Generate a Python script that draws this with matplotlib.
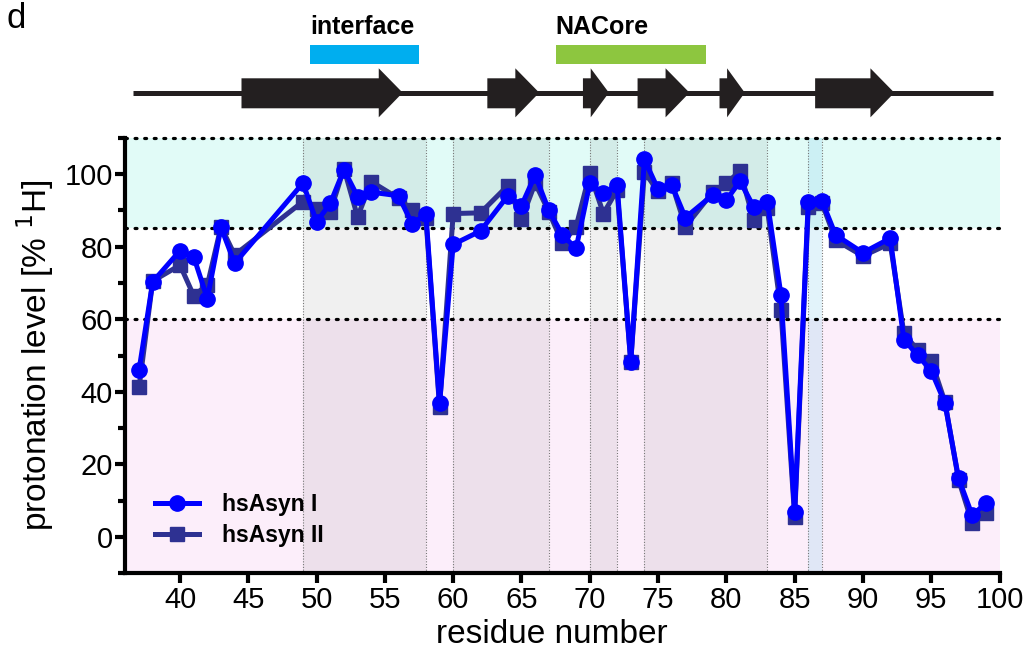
import numpy as np
import matplotlib
matplotlib.use("Agg")
import matplotlib.pyplot as plt
from matplotlib.patches import Polygon, Rectangle

plt.rcParams['font.family'] = ['Liberation Sans', 'DejaVu Sans']

# residues and protonation levels (% 1H)
residues = [37, 38, 40, 41, 42, 43, 44, 49, 50, 51, 52, 53, 54, 56, 57, 58, 59, 60,
            62, 64, 65, 66, 67, 68, 69, 70, 71, 72, 73, 74, 75, 76, 77, 79, 80, 81,
            82, 83, 84, 85, 86, 87, 88, 90, 92, 93, 94, 95, 96, 97, 98, 99]
hsasyn_1 = [46.0, 70.3, 78.9, 77.2, 65.7, 85.3, 75.4, 97.5, 86.8, 91.9, 101.2, 93.8,
            95.0, 94.0, 86.2, 89.0, 36.8, 80.6, 84.3, 94.0, 91.3, 99.7, 90.0, 83.2,
            79.5, 97.4, 94.7, 97.0, 48.3, 104.0, 95.8, 97.0, 88.0, 94.2, 92.8, 98.0,
            91.0, 92.4, 66.7, 7.0, 92.4, 92.6, 83.2, 78.3, 82.3, 54.4, 50.1, 45.8,
            37.0, 16.2, 6.0, 9.3]
hsasyn_2 = [41.2, 70.5, 74.9, 66.5, 69.4, 85.5, 77.7, 92.4, 90.3, 89.6, 101.5, 88.2,
            97.9, 93.3, 90.0, 88.0, 35.9, 89.1, 89.3, 96.8, 87.5, 97.5, 89.6, 80.9,
            85.5, 100.2, 89.1, 95.6, 48.3, 100.6, 95.2, 97.4, 85.5, 95.0, 97.4, 100.8,
            87.3, 90.5, 62.5, 5.6, 91.0, 92.0, 81.8, 77.4, 80.9, 56.1, 51.5, 48.6,
            37.3, 15.8, 3.8, 6.5]

# horizontal level bands
band_edges = [-10, 60, 85, 110]
band_colors = ['#FCEEFA', '#FFFFFF', '#E1FBF7']

# shaded residue stretches
core_regions = [(49, 58), (60, 67), (70, 72), (74, 83)]
blue_regions = [(86, 87)]

# secondary structure (beta strands) and labelled segments
strands = [(44.5, 56.3), (62.5, 66.3), (69.5, 71.4), (73.5, 77.3), (79.5, 81.35), (86.5, 92.3)]
chain_range = (36.56, 99.5)
segments = [('interface', 49.5, 57.5, '#00AEEF'), ('NACore', 67.5, 78.5, '#8DC63F')]

W, H = 1027, 666
fig = plt.figure(figsize=(W / 100, H / 100), dpi=100)

x0, x1 = 125.4, 999.5
y_top, y_bot = 137.7, 573.3
ax = fig.add_axes([x0 / W, 1 - y_bot / H, (x1 - x0) / W, (y_bot - y_top) / H])
ax.set_xlim(36, 100)
ax.set_ylim(-10, 110)

for lo, hi, c in zip(band_edges[:-1], band_edges[1:], band_colors):
    ax.axhspan(lo, hi, color=c, lw=0, zorder=0)
for a, b in core_regions:
    ax.axvspan(a, b, color='k', alpha=0.06, lw=0, zorder=0.5)
for a, b in blue_regions:
    ax.axvspan(a, b, color='#8FD3EC', alpha=0.25, lw=0, zorder=0.5)
edges = sorted(set([e for r in core_regions + blue_regions for e in r]))
for e in edges:
    ax.axvline(e, color='#777777', lw=0.8, ls=(0, (1, 1.5)), zorder=0.8)

for lvl in band_edges[1:]:
    ax.axhline(lvl, color='k', lw=2.3, ls=(0, (0.6, 2.4)), dash_capstyle='round',
               zorder=1, clip_on=False)

ax.plot(residues, hsasyn_2, color='#2E3192', lw=3.6, marker='s', ms=10,
        label='hsAsyn II', zorder=3)
ax.plot(residues, hsasyn_1, color='#0000FF', lw=3.6, marker='o', ms=11,
        label='hsAsyn I', zorder=4)

handles, labels = ax.get_legend_handles_labels()
leg = ax.legend(handles[::-1], labels[::-1], loc='lower left', bbox_to_anchor=(0.034, 0.06),
                frameon=False, borderpad=0, borderaxespad=0, handlelength=1.9,
                handletextpad=1.0, labelspacing=0.35,
                prop={'weight': 'bold', 'size': 16.5})

ax.spines['top'].set_visible(False)
ax.spines['right'].set_visible(False)
ax.spines['left'].set_linewidth(3)
ax.spines['bottom'].set_linewidth(3)
ax.set_xticks(np.arange(40, 101, 5))
ax.set_yticks(np.arange(0, 101, 20))
ax.set_yticks(np.arange(-10, 111, 20), minor=True)
ax.tick_params(axis='both', which='major', direction='out', length=7, width=3,
               labelsize=21, pad=2)
ax.tick_params(axis='y', which='minor', direction='out', length=5, width=3)
ax.set_xlabel('residue number', fontsize=24)
ax.xaxis.set_label_coords(0.488, -0.105)
ax.set_ylabel('protonation level [% $^{1}$H]', fontsize=24, labelpad=6)

# top schematic
t_top, t_bot = 0, 125
tax = fig.add_axes([x0 / W, 1 - t_bot / H, (x1 - x0) / W, (t_bot - t_top) / H])
tax.set_xlim(36, 100)
tax.set_ylim(t_bot, t_top)
tax.axis('off')
line_y = 92.7
tax.plot(chain_range, [line_y, line_y], color='#231F20', lw=3.6, solid_capstyle='butt')
for s, e in strands:
    head = min(1.75, 0.7 * (e - s))
    base = e - head
    tax.add_patch(Polygon([(s, 78.3), (base, 78.3), (base, 68.3), (e, line_y),
                           (base, 117.3), (base, 108.3), (s, 108.3)],
                          closed=True, color='#231F20', lw=0))
for name, a, b, c in segments:
    tax.add_patch(Rectangle((a, 45), b - a, 19, color=c, lw=0))
    tax.text(a, 34, name, fontsize=18, fontweight='bold', ha='left', va='baseline')

fig.text(7 / W, 1 - 2 / H, 'd', fontsize=25, ha='left', va='top')

fig.savefig('out.png', dpi=100)
